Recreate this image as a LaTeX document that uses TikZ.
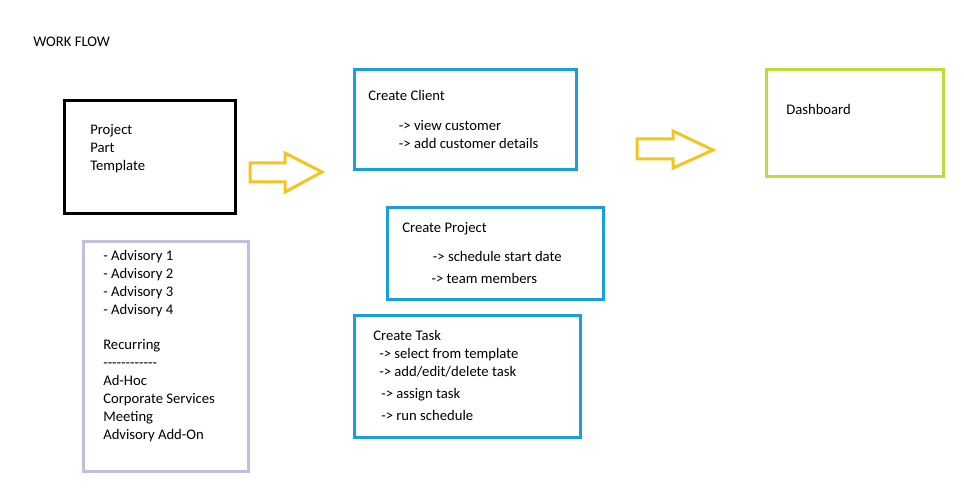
\documentclass[tikz,border=0pt]{standalone}
\usepackage{fontspec}
\setmainfont{Carlito}[Ligatures=TeXOff]
\usepackage{tikz}
\usetikzlibrary{positioning}

\definecolor{flowblue}{RGB}{27,159,219}
\definecolor{flowgreen}{RGB}{190,219,57}
\definecolor{flowyellow}{RGB}{244,197,31}
\definecolor{flowpurple}{RGB}{197,189,224}

\begin{document}
\begin{tikzpicture}[x=0.75pt, y=-0.75pt,
    box/.style={draw, line width=2.25pt, inner sep=0pt, outer sep=0pt, anchor=north west},
    txt/.style={anchor=north west, inner sep=0pt, align=left, font=\fontsize{11pt}{13.5pt}\selectfont},
    blockarrow/.style={draw=flowyellow, line width=2.25pt, line join=miter}]
    \fill[white] (0,0) rectangle (964,499);
    \useasboundingbox (0,0) rectangle (964,499);

    \node[anchor=west, inner sep=0pt, font=\fontsize{11pt}{13.5pt}\selectfont] (title) at (33,42) {WORK FLOW};

    \node[box, draw=black, minimum width=128.25pt, minimum height=84.75pt] (tmplbox) at (64,101) {};
    \node[txt] (tmpltext) at (90,124.5) {Project\\Part\\Template};

    \node[box, draw=flowpurple, minimum width=123.75pt, minimum height=172.5pt] (advbox) at (83,241) {};
    \node[txt] (advtext) at (103,250.5) {- Advisory 1\\- Advisory 2\\- Advisory 3\\- Advisory 4\\[12.75pt]Recurring\\------------\\Ad-Hoc\\Corporate Services\\Meeting\\Advisory Add-On};

    \node[box, draw=flowblue, minimum width=166.5pt, minimum height=75pt] (clientbox) at (354,70) {};
    \node[txt] (clienttext) at (368,90.5) {Create Client\\[9pt]\hspace*{23pt}-> view customer\\\hspace*{23pt}-> add customer details};

    \node[box, draw=flowblue, minimum width=162pt, minimum height=68.25pt] (projectbox) at (387,208) {};
    \node[txt] (projecttext) at (402,222.5) {Create Project\\[8.25pt]\hspace*{23pt}-> schedule start date\\[3pt]\hspace*{22pt}-> team members};

    \node[box, draw=flowblue, minimum width=169.5pt, minimum height=91.5pt] (taskbox) at (354,315) {};
    \node[txt] (tasktext) at (373,330.5) {Create Task\\\hspace*{4.5pt}-> select from template\\\hspace*{4.5pt}-> add/edit/delete task\\[3pt]\hspace*{6pt}-> assign task\\[3pt]\hspace*{6pt}-> run schedule};

    \node[box, draw=flowgreen, minimum width=132.75pt, minimum height=80.25pt] (dashbox) at (766,70) {};
    \node[txt] (dashtext) at (786,104.5) {Dashboard};

    % block arrows
    \draw[blockarrow] (250,163) -- (285,163) -- (285,153) -- (322,172) -- (285,192) -- (285,182) -- (250,182) -- cycle;
    \draw[blockarrow] (637,139) -- (673,139) -- (673,131) -- (713,150) -- (673,168) -- (673,159) -- (637,159) -- cycle;
\end{tikzpicture}
\end{document}
